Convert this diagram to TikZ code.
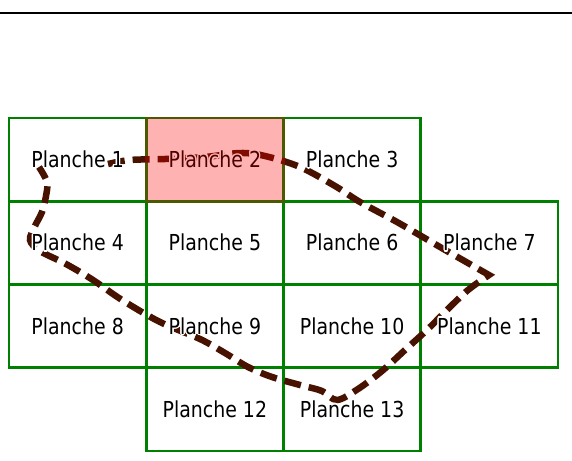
\documentclass[tikz,border=0pt]{standalone}
\usepackage{fontspec}
\setmainfont[FakeStretch=0.86]{DejaVu Sans}
\usepackage{contour}
\contourlength{1.4pt}
\contournumber{12}
\definecolor{gridgreen}{RGB}{0,128,0}
\definecolor{routebrown}{RGB}{72,18,0}
\begin{document}
\begin{tikzpicture}[x=1pt,y=-1pt,
  cellbox/.style={draw=gridgreen,line width=2.7pt,minimum width=137.25pt,minimum height=83.25pt,inner sep=0pt,outer sep=0pt},
  celltext/.style={font=\fontsize{22}{24}\selectfont,inner sep=0pt,text=black},
  route/.style={draw=routebrown,line width=6.5pt,dash pattern=on 17pt off 8pt,line join=miter},
  overlay2/.style={fill=red,fill opacity=0.3,draw=none}]
\useasboundingbox (0,0) rectangle (572,460);
\draw[line width=2.8pt,black] (0,13) -- (572,13);
% cells
\foreach \n/\c/\r in {1/0/0,2/1/0,3/2/0,4/0/1,5/1/1,6/2/1,7/3/1,8/0/2,9/1/2,10/2/2,11/3/2,12/1/3,13/2/3}{
  \node[cellbox] (p\n) at ({9+137.25*\c+68.625},{118+83.25*\r+41.625}) {};
}
% route
\draw[route] plot[smooth,tension=0.55] coordinates {(108,164) (130,160) (165,159) (205,157) (240,153) (265,156)
  (300,167) (335,186) (360,202) (397,222) (440,247) (489,275)}
  -- plot[smooth,tension=0.55] coordinates {(489,275) (468,290) (448,309) (428,329) (405,350) (382,371) (358,389)
  (337,400) (322,391) (300,385) (272,377) (248,367)
  (225,353) (200,339) (160,322) (122,300) (93,280)
  (66,264) (40,251) (30,240) (35,226) (42,212) (46,196)
  (47,182) (39,167)};
% labels
\foreach \n in {1,...,13}{
  \node[celltext] (t\n) at ([yshift=-0.5pt]p\n.center) {\contour{white}{Planche \n}};
}
% highlighted sheet
\path[overlay2] ([xshift=-1.35pt,yshift=1.35pt]p2.north west) rectangle ([xshift=1.35pt,yshift=-1.35pt]p2.south east);
\end{tikzpicture}
\end{document}
